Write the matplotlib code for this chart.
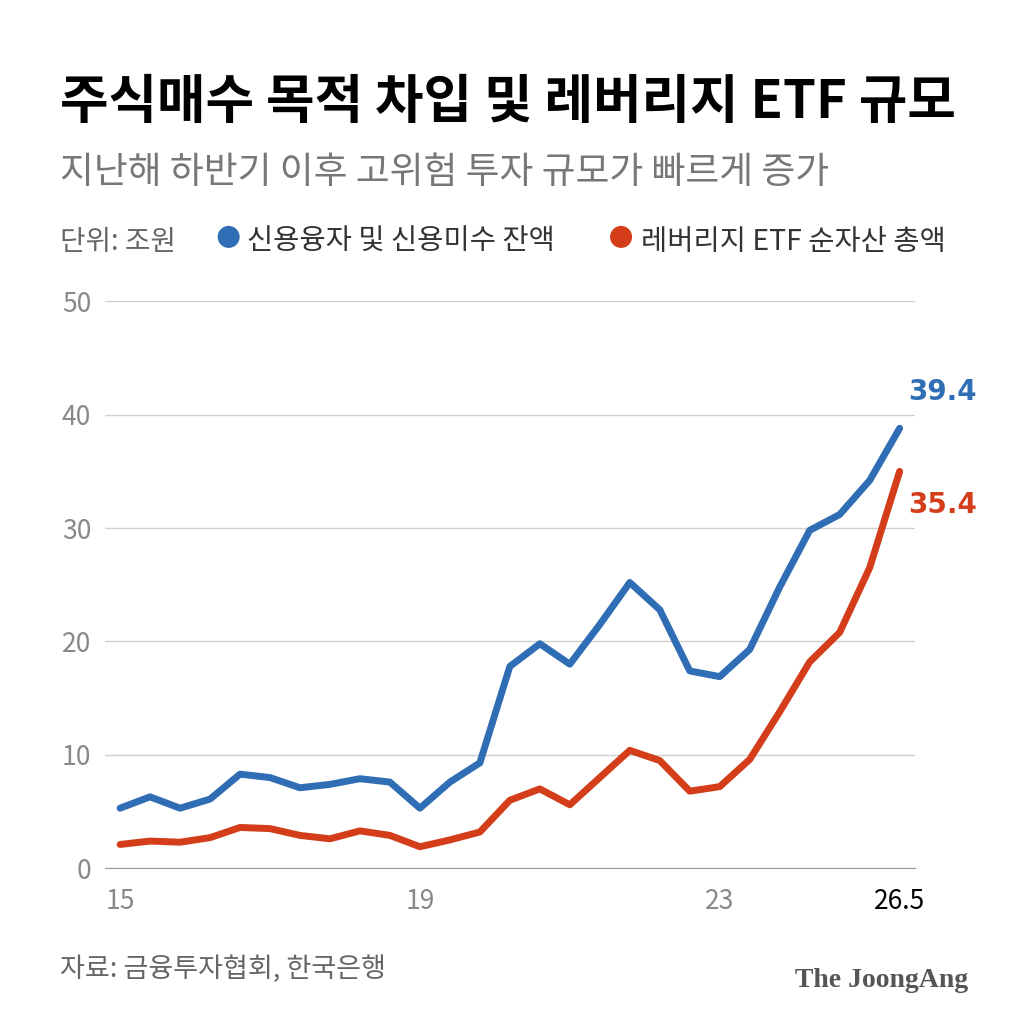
import numpy as np
import matplotlib.pyplot as plt
from matplotlib.patches import Ellipse

plt.rcParams['font.family'] = ['Noto Sans CJK KR', 'DejaVu Sans']

# credit balance (trillion won), leveraged ETF net assets
credit = [5.3, 6.3, 5.3, 6.1, 8.3, 8.0, 7.1, 7.4, 7.9, 7.6, 5.3, 7.6, 9.3, 17.8,
          19.8, 18.0, 21.5, 25.2, 22.8, 17.4, 16.9, 19.3, 24.8, 29.8, 31.2, 34.2, 38.8]
etf = [2.1, 2.4, 2.3, 2.7, 3.6, 3.5, 2.9, 2.6, 3.3, 2.9, 1.9, 2.5, 3.2, 6.0,
       7.0, 5.6, 8.0, 10.4, 9.5, 6.8, 7.2, 9.6, 13.8, 18.2, 20.8, 26.5, 35.0]
tick_pos = [0, 10, 20, 26]
tick_labels = ['15', '19', '23', '26.5']
blue = '#2f6db5'
red = '#d43d1a'

fig = plt.figure(figsize=(10.3, 10.3), dpi=100)
ax = fig.add_axes([0.102, 0.157, 0.786, 0.5505])
x = np.arange(len(credit))
ax.plot(x, credit, color=blue, lw=5, solid_joinstyle='round', solid_capstyle='round')
ax.plot(x, etf, color=red, lw=5, solid_joinstyle='round', solid_capstyle='round')
ax.set_xlim(-0.5, 26.5)
ax.set_ylim(0, 50)
ax.set_yticks(range(0, 51, 10))
ax.grid(axis='y', color='#d0d0d0', lw=1)
ax.set_axisbelow(True)
for s in ['top', 'right', 'left']:
    ax.spines[s].set_visible(False)
ax.spines['bottom'].set_color('#999999')
ax.tick_params(axis='y', length=0, labelsize=19, labelcolor='#888888', pad=10)
ax.set_yticklabels([str(v) for v in range(0, 51, 10)], ha='right')
ax.set_xticks(tick_pos)
ax.set_xticklabels(tick_labels)
ax.tick_params(axis='x', length=0, labelsize=19, labelcolor='#888888', pad=14)
ax.get_xticklabels()[-1].set_color('black')

ax.text(26.3, 40.8, '39.4', color=blue, fontsize=20, fontweight='bold', ha='left', va='bottom',
        family=['DejaVu Sans'])
ax.text(26.3, 30.8, '35.4', color=red, fontsize=20, fontweight='bold', ha='left', va='bottom',
        family=['DejaVu Sans'])

fig.text(0.058, 0.885, '주식매수 목적 차입 및 레버리지 ETF 규모', fontsize=38, fontweight='bold')
fig.text(0.058, 0.822, '지난해 하반기 이후 고위험 투자 규모가 빠르게 증가', fontsize=26.5, color='#777777')
fig.text(0.058, 0.757, '단위: 조원', fontsize=20, color='#666666')
fig.patches.append(Ellipse((0.222, 0.770), 0.02, 0.02, color=blue, transform=fig.transFigure))
fig.text(0.240, 0.757, '신용융자 및 신용미수 잔액', fontsize=20.5, color='#333333')
fig.patches.append(Ellipse((0.603, 0.770), 0.02, 0.02, color=red, transform=fig.transFigure))
fig.text(0.622, 0.757, '레버리지 ETF 순자산 총액', fontsize=20.5, color='#333333')
fig.text(0.058, 0.052, '자료: 금융투자협회, 한국은행', fontsize=19.5, color='#666666')
fig.text(0.94, 0.042, 'The JoongAng', fontsize=20, fontweight='bold', color='#555555',
         ha='right', family=['Liberation Serif', 'DejaVu Serif'])

fig.savefig('out.png', dpi=100, facecolor='white')
